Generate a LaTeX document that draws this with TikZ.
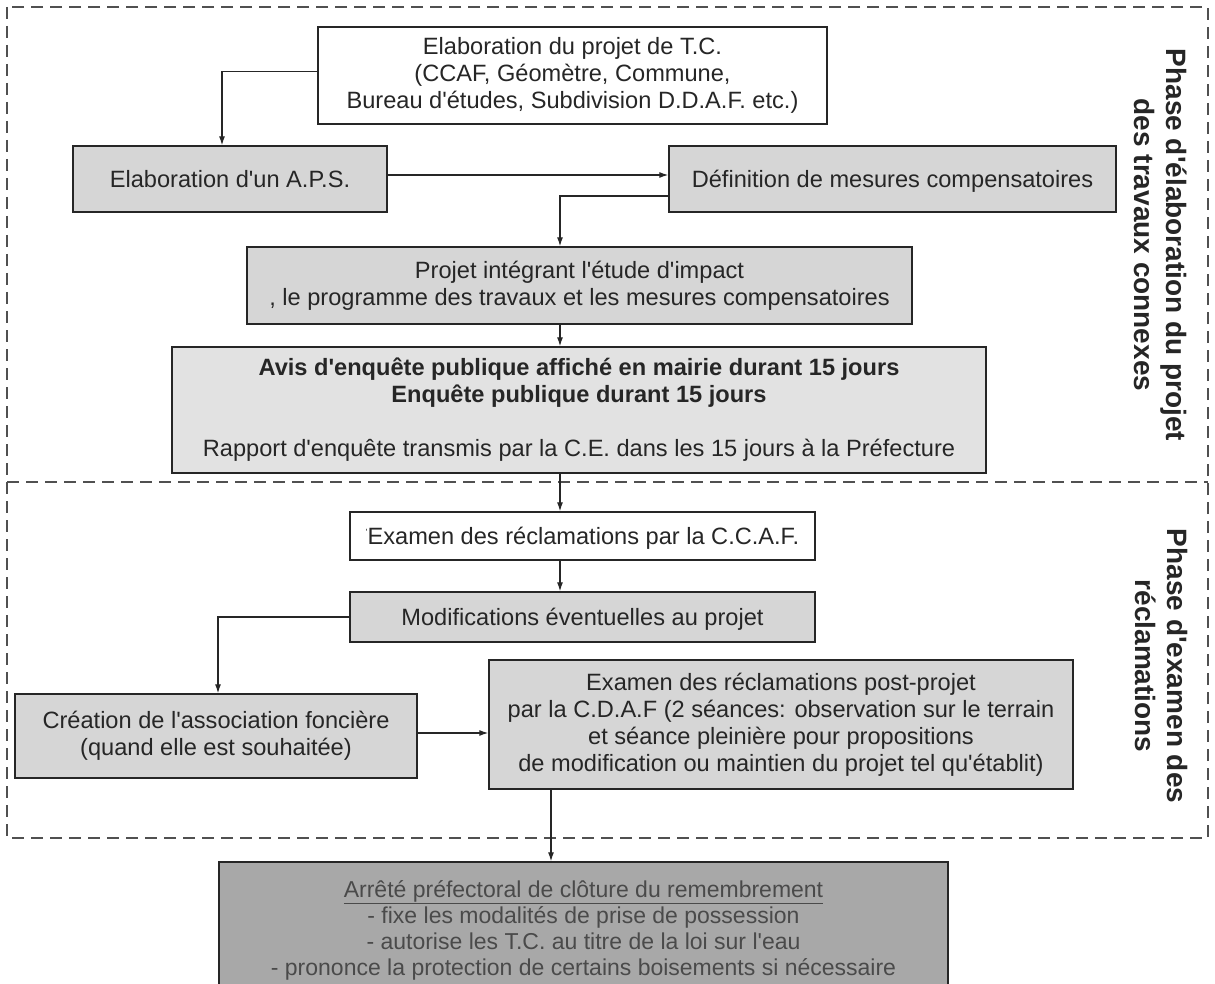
\documentclass[tikz,border=0pt]{standalone}
\usepackage{fontspec}
\setmainfont{Liberation Sans}[Ligatures=TeXOff]
\usetikzlibrary{arrows.meta,calc}
\definecolor{ink}{HTML}{262626}
\definecolor{boxfill}{HTML}{D6D6D6}
\definecolor{avisfill}{HTML}{E2E2E2}
\definecolor{darkfill}{HTML}{A8A8A8}
\definecolor{darktext}{HTML}{4A4A4A}
\definecolor{framecol}{HTML}{505050}
\begin{document}
\begin{tikzpicture}[x=1pt,y=-1pt,
  box/.style={draw=ink, line width=1.4pt, inner sep=0pt, align=center, text=ink,
    font=\fontsize{23.6}{27}\selectfont},
  plainbox/.style={box, fill=white},
  shadedbox/.style={box, fill=boxfill},
  oneline/.style={text height=17pt, text depth=0pt},
  conn/.style={draw=ink, line width=1.2pt, -{Latex[length=9pt,width=6pt]}},
  phase/.style={rotate=-90, align=center, text=ink, inner sep=0pt,
    font=\fontsize{28}{32}\selectfont\bfseries},
  phaseframe/.style={draw=framecol, line width=1.3pt, dash pattern=on 12pt off 7pt}]
\useasboundingbox (0,0) rectangle (1215,984);
\fill[white] (0,0) rectangle (1215,984);
\clip (0,0) rectangle (1215,984);

% phase frames
\draw[phaseframe] (7,7) rectangle (1208,838);
\draw[phaseframe] (7,482) -- (1208,482);

% spine coordinates
\coordinate (sp) at (560,0);
\coordinate (spb) at (551,0);
\coordinate (spl) at (222,0);
\coordinate (spc) at (218,0);

% boxes
\node[plainbox, minimum width=509pt, minimum height=97pt] (top) at (572.5,75.5)
  {Elaboration du projet de T.C.\\(CCAF, Géomètre, Commune,\\Bureau d'études, Subdivision D.D.A.F. etc.)};
\node[shadedbox, oneline, minimum width=314pt, minimum height=66pt] (aps) at (230,179)
  {Elaboration d'un A.P.S.};
\node[shadedbox, oneline, minimum width=447pt, minimum height=66pt] (def) at (892.5,179)
  {Définition de mesures compensatoires};
\node[shadedbox, minimum width=665pt, minimum height=77pt] (proj) at (579.5,285.5)
  {Projet intégrant l'étude d'impact\\, le programme des travaux et les mesures compensatoires};
\node[box, fill=avisfill, minimum width=814pt, minimum height=126pt] (avis) at (579,410)
  {\textbf{Avis d'enquête publique affiché en mairie durant 15 jours}\\
   \textbf{Enquête publique durant 15 jours}\\[27pt]
   Rapport d'enquête transmis par la C.E. dans les 15 jours à la Préfecture};
\node[plainbox, oneline, minimum width=465pt, minimum height=48pt] (ccaf) at (582.5,536)
  {\raisebox{9pt}{\fontsize{9}{9}\selectfont '}Examen des réclamations par la C.C.A.F.};
\node[shadedbox, oneline, minimum width=465pt, minimum height=50pt] (modif) at (582.5,617)
  {Modifications éventuelles au projet};
\node[shadedbox, minimum width=402pt, minimum height=84pt] (crea) at (216,736)
  {\rule{0pt}{10pt}Création de l'association foncière\\(quand elle est souhaitée)};
\node[shadedbox, minimum width=584pt, minimum height=129pt] (post) at (781,724.5)
  {Examen des réclamations post-projet\\par la C.D.A.F (2 séances: observation sur le terrain\\et séance pleinière pour propositions\\de modification ou maintien du projet tel qu'établit)};
\node[box, fill=darkfill, minimum width=729pt, minimum height=136pt] (arrete) at (583.5,930) {};
\node[text=darktext, align=center, inner sep=0pt, font=\fontsize{23}{26}\selectfont]
  (arretetext) at (arrete.center)
  {\underline{Arrêté préfectoral de clôture du remembrement}\\- fixe les modalités de prise de possession\\- autorise les T.C. au titre de la loi sur l'eau\\- prononce la protection de certains boisements si nécessaire};

% phase labels
\node[phase] (ph1) at (1161,245) {Phase d'élaboration du projet\\des travaux connexes};
\node[phase] (ph2) at (1161,666) {Phase d'examen des\\réclamations};

% connectors
\draw[conn] ([yshift=4pt]top.west) -| (aps.north -| spl);
\draw[conn] ([yshift=4pt]aps.east) -- ([yshift=4pt]def.west);
\draw[conn] ([yshift=-17pt]def.west) -| (proj.north -| sp);
\draw[conn] (proj.south -| sp) -- (avis.north -| sp);
\draw[conn] (avis.south -| sp) -- (ccaf.north -| sp);
\draw[conn] (ccaf.south -| sp) -- (modif.north -| sp);
\draw[conn] (modif.west) -| (crea.north -| spc);
\draw[conn] ([yshift=3pt]crea.east) -- ([yshift=3pt]post.west |- crea.east);
\draw[conn] (post.south -| spb) -- (arrete.north -| spb);
\end{tikzpicture}
\end{document}
